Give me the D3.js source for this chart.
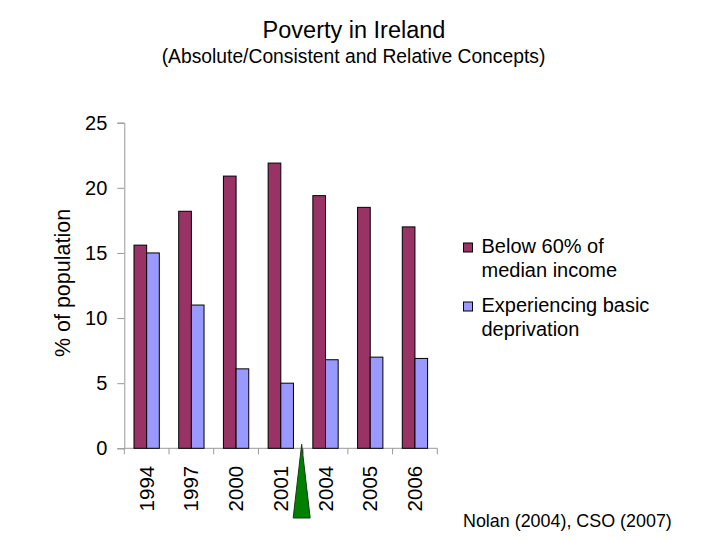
<!DOCTYPE html>
<html>
<head>
<meta charset="utf-8">
<script src="https://cdn.jsdelivr.net/npm/d3@7"></script>
<style>
  html, body { margin: 0; padding: 0; background: #fff; }
  svg { display: block; }
  text { font-family: "Liberation Sans", Arial, sans-serif; fill: #000; }
</style>
</head>
<body>
<svg id="chart" width="720" height="540"></svg>
<script>
const years = ["1994", "1997", "2000", "2001", "2004", "2005", "2006"];
const belowMedian = [15.6, 18.2, 20.9, 21.9, 19.4, 18.5, 17.0];
const basicDeprivation = [15.0, 11.0, 6.1, 5.0, 6.8, 7.0, 6.9];
const seriesNames = ["Below 60% of|median income", "Experiencing basic|deprivation"];
const seriesColors = ["#993366", "#9999FF"];
const yTicks = [0, 5, 10, 15, 20, 25];

const svg = d3.select("#chart");
const plot = { left: 124.3, right: 437.3, top: 122.7, bottom: 448.3 };

const x = d3.scaleBand().domain(years).range([plot.left, plot.right]).paddingInner(0).paddingOuter(0);
const y = d3.scaleLinear().domain([0, 25]).range([plot.bottom, plot.top]);
const groupPad = 9.7;
const xs = d3.scaleBand().domain([0, 1]).range([0, x.bandwidth() - 2 * groupPad]).padding(0);

// Title
svg.append("text").attr("x", 354).attr("y", 38).attr("text-anchor", "middle")
  .style("font-size", "23.5px").text("Poverty in Ireland");
svg.append("text").attr("x", 353.5).attr("y", 63).attr("text-anchor", "middle")
  .style("font-size", "19.3px").text("(Absolute/Consistent and Relative Concepts)");

// Y axis
const yAxis = svg.append("g").attr("transform", `translate(${plot.left},0)`)
  .call(d3.axisLeft(y).tickValues(yTicks).tickSize(7).tickPadding(10).tickFormat(d3.format("d")));
yAxis.select(".domain").attr("stroke", "#999");
yAxis.selectAll(".tick line").attr("stroke", "#999");
yAxis.selectAll(".tick text").style("font-size", "20px").attr("fill", "#000")
  .style("font-family", "'Liberation Sans', Arial, sans-serif");

// X axis (line + ticks at category boundaries)
const xAxisG = svg.append("g");
xAxisG.append("line").attr("x1", plot.left).attr("x2", plot.right)
  .attr("y1", y(0)).attr("y2", y(0)).attr("stroke", "#999");
const boundaries = years.map(d => x(d)).concat([x(years[years.length - 1]) + x.bandwidth()]);
xAxisG.selectAll("line.tk").data(boundaries).join("line").attr("class", "tk")
  .attr("x1", d => d).attr("x2", d => d).attr("y1", y(0)).attr("y2", y(0) + 6).attr("stroke", "#999");
xAxisG.selectAll("text.xl").data(years).join("text").attr("class", "xl")
  .attr("transform", d => `translate(${x(d) + x.bandwidth() / 2 + 7},${y(0) + 17.5}) rotate(-90)`)
  .attr("text-anchor", "end").style("font-size", "20.5px").text(d => d);

// Y axis title
svg.append("text").attr("transform", `translate(70,283) rotate(-90)`)
  .attr("text-anchor", "middle").style("font-size", "21.5px").text("% of population");

// Bars
const series = [belowMedian, basicDeprivation];
series.forEach((vals, si) => {
  svg.append("g").selectAll("rect").data(years).join("rect")
    .attr("x", (d) => x(d) + groupPad + xs(si))
    .attr("width", xs.bandwidth())
    .attr("y", (d, i) => y(vals[i]))
    .attr("height", (d, i) => y(0) - y(vals[i]))
    .attr("fill", seriesColors[si])
    .attr("stroke", "#000").attr("stroke-width", 1);
});

// Legend
const legend = svg.append("g");
const legendY = [243, 302];
seriesNames.forEach((name, i) => {
  legend.append("rect").attr("x", 463.5).attr("y", legendY[i]).attr("width", 9).attr("height", 9)
    .attr("fill", seriesColors[i]).attr("stroke", "#000").attr("stroke-width", 1);
  const lines = name.split("|");
  lines.forEach((ln, j) => {
    legend.append("text").attr("x", 481.5).attr("y", legendY[i] + 9.5 + j * 24.5)
      .style("font-size", "20px").text(ln);
  });
});

// Green triangle annotation between 2001 and 2004
const bx = x("2004") - 1.5;
svg.append("path")
  .attr("d", `M${bx},${y(0) - 4} L${bx + 8.5},${518} L${bx - 8.5},${518} Z`)
  .attr("fill", "#008000").attr("stroke", "#1a3a1a").attr("stroke-width", 1);

// Source
svg.append("text").attr("x", 463).attr("y", 527).style("font-size", "17.9px")
  .text("Nolan (2004), CSO (2007)");
</script>
</body>
</html>
